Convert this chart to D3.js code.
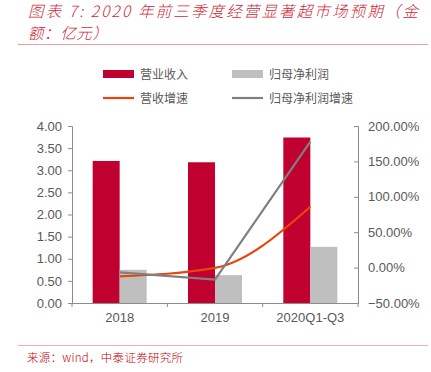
<!DOCTYPE html>
<html lang="zh">
<head>
<meta charset="utf-8">
<title>2020年前三季度经营显著超市场预期</title>
<script src="https://cdn.jsdelivr.net/npm/d3@7"></script>
<style>
  body { margin: 0; background: #fff; }
  svg { display: block; }
</style>
</head>
<body>
<script>
// data
var categories = ["2018", "2019", "2020Q1-Q3"];
var revenue = [3.21, 3.18, 3.74];        // 营业收入 (亿元)
var netProfit = [0.75, 0.63, 1.27];      // 归母净利润 (亿元)
var revenueGrowth = [-0.124, -0.005, 0.86];   // 营收增速
var profitGrowth = [-0.067, -0.17, 1.78];     // 归母净利润增速
var leftTicks = [0, 0.5, 1, 1.5, 2, 2.5, 3, 3.5, 4];
var rightTicks = [-0.5, 0, 0.5, 1, 1.5, 2];

var w = 431, h = 372;
var svg = d3.select("body").append("svg")
  .attr("width", w).attr("height", h);

var font = "'Noto Sans CJK SC', 'Liberation Sans', Arial, sans-serif";
var axisFont = "'Liberation Sans', Arial, sans-serif";
var red = "#c0002f", grey = "#bfbfbf", orange = "#e8440c", greyLine = "#808080";
var textCol = "#595959", axisCol = "#8c8c8c";

// title, two lines
var titleLines = [
  { text: "图表 7:  2020 年前三季度经营显著超市场预期（金", y: 17, len: 390 },
  { text: "额：亿元）", y: 39, len: 80 }
];
titleLines.forEach(function(t) {
  svg.append("text")
    .attr("x", 28).attr("y", t.y)
    .attr("font-family", font)
    .attr("font-style", "italic")
    .attr("font-weight", 300)
    .attr("font-size", "15.5px")
    .attr("fill", "#d01f35")
    .attr("textLength", t.len).attr("lengthAdjust", "spacing")
    .text(t.text);
});

svg.append("line")
  .attr("x1", 18).attr("x2", 428).attr("y1", 44.5).attr("y2", 44.5)
  .attr("stroke", "#e8a0a0").attr("stroke-width", 1);

// scales
var pLeft = 72, pRight = 358, pTop = 126, pBottom = 303;
var x = d3.scaleBand().domain(categories).range([pLeft, pRight]);
var yL = d3.scaleLinear().domain([0, 4]).range([pBottom, pTop]);
var yR = d3.scaleLinear().domain([-0.5, 2]).range([pBottom, pTop]);
var barW = 27;

// bars
var g = svg.append("g");
g.selectAll(".rev").data(revenue).enter().append("rect")
  .attr("x", function(d, i) { return x(categories[i]) + x.bandwidth() / 2 - barW; })
  .attr("y", function(d) { return yL(d); })
  .attr("width", barW)
  .attr("height", function(d) { return pBottom - yL(d); })
  .attr("fill", red);
g.selectAll(".np").data(netProfit).enter().append("rect")
  .attr("x", function(d, i) { return x(categories[i]) + x.bandwidth() / 2; })
  .attr("y", function(d) { return yL(d); })
  .attr("width", barW)
  .attr("height", function(d) { return pBottom - yL(d); })
  .attr("fill", grey);

// axes
var axL = svg.append("g").attr("transform", "translate(" + pLeft + ",0)")
  .call(d3.axisLeft(yL).tickValues(leftTicks).tickFormat(d3.format(".2f")).tickSize(4).tickPadding(6));
var axR = svg.append("g").attr("transform", "translate(" + pRight + ",0)")
  .call(d3.axisRight(yR).tickValues(rightTicks).tickFormat(d3.format(".2%")).tickSize(-4).tickPadding(10));
var axB = svg.append("g").attr("transform", "translate(0," + pBottom + ")")
  .call(d3.axisBottom(x).tickSize(0).tickPadding(10));
// category boundary ticks
svg.selectAll(".bt").data(d3.range(categories.length + 1)).enter().append("line")
  .attr("x1", function(i) { return pLeft + i * x.step(); })
  .attr("x2", function(i) { return pLeft + i * x.step(); })
  .attr("y1", pBottom).attr("y2", pBottom + 4)
  .attr("stroke", axisCol);

[axL, axR, axB].forEach(function(a) {
  a.selectAll("path, line").attr("stroke", axisCol);
  a.selectAll("text").attr("fill", textCol).attr("font-family", axisFont).attr("font-size", "13px");
});
axB.select(".domain").attr("d", "M" + pLeft + ",0.5H" + pRight);

// lines
var lineGen = d3.line()
  .x(function(d, i) { return x(categories[i]) + x.bandwidth() / 2; })
  .y(function(d) { return yR(d); });
svg.append("path").datum(revenueGrowth)
  .attr("d", lineGen.curve(d3.curveMonotoneX))
  .attr("fill", "none").attr("stroke", orange).attr("stroke-width", 2.2);
svg.append("path").datum(profitGrowth)
  .attr("d", lineGen.curve(d3.curveLinear))
  .attr("fill", "none").attr("stroke", greyLine).attr("stroke-width", 2.2);

// legend
var legend = svg.append("g").attr("font-family", font).attr("font-size", "12px").attr("fill", textCol);
var legendItems = [
  { name: "营业收入", type: "rect", color: red, x: 103, y: 74 },
  { name: "归母净利润", type: "rect", color: grey, x: 232, y: 74 },
  { name: "营收增速", type: "line", color: orange, x: 103, y: 98 },
  { name: "归母净利润增速", type: "line", color: greyLine, x: 232, y: 98 }
];
legendItems.forEach(function(d) {
  if (d.type === "rect") {
    legend.append("rect").attr("x", d.x).attr("y", d.y - 4).attr("width", 31).attr("height", 8).attr("fill", d.color);
  } else {
    legend.append("line").attr("x1", d.x).attr("x2", d.x + 31).attr("y1", d.y).attr("y2", d.y)
      .attr("stroke", d.color).attr("stroke-width", 2.2);
  }
  legend.append("text").attr("x", d.x + 37).attr("y", d.y + 4.5).text(d.name);
});

// source
svg.append("line")
  .attr("x1", 18).attr("x2", 428).attr("y1", 345.5).attr("y2", 345.5)
  .attr("stroke", "#f0b0b0").attr("stroke-width", 1);
svg.append("text")
  .attr("x", 27).attr("y", 362)
  .attr("font-family", "'Noto Sans CJK SC', 'DejaVu Sans Mono', monospace")
  .attr("font-weight", 300)
  .attr("font-size", "11.5px").attr("fill", "#c00000")
  .attr("textLength", 156).attr("lengthAdjust", "spacing")
  .text("来源：wind，中泰证券研究所");
</script>
</body>
</html>
